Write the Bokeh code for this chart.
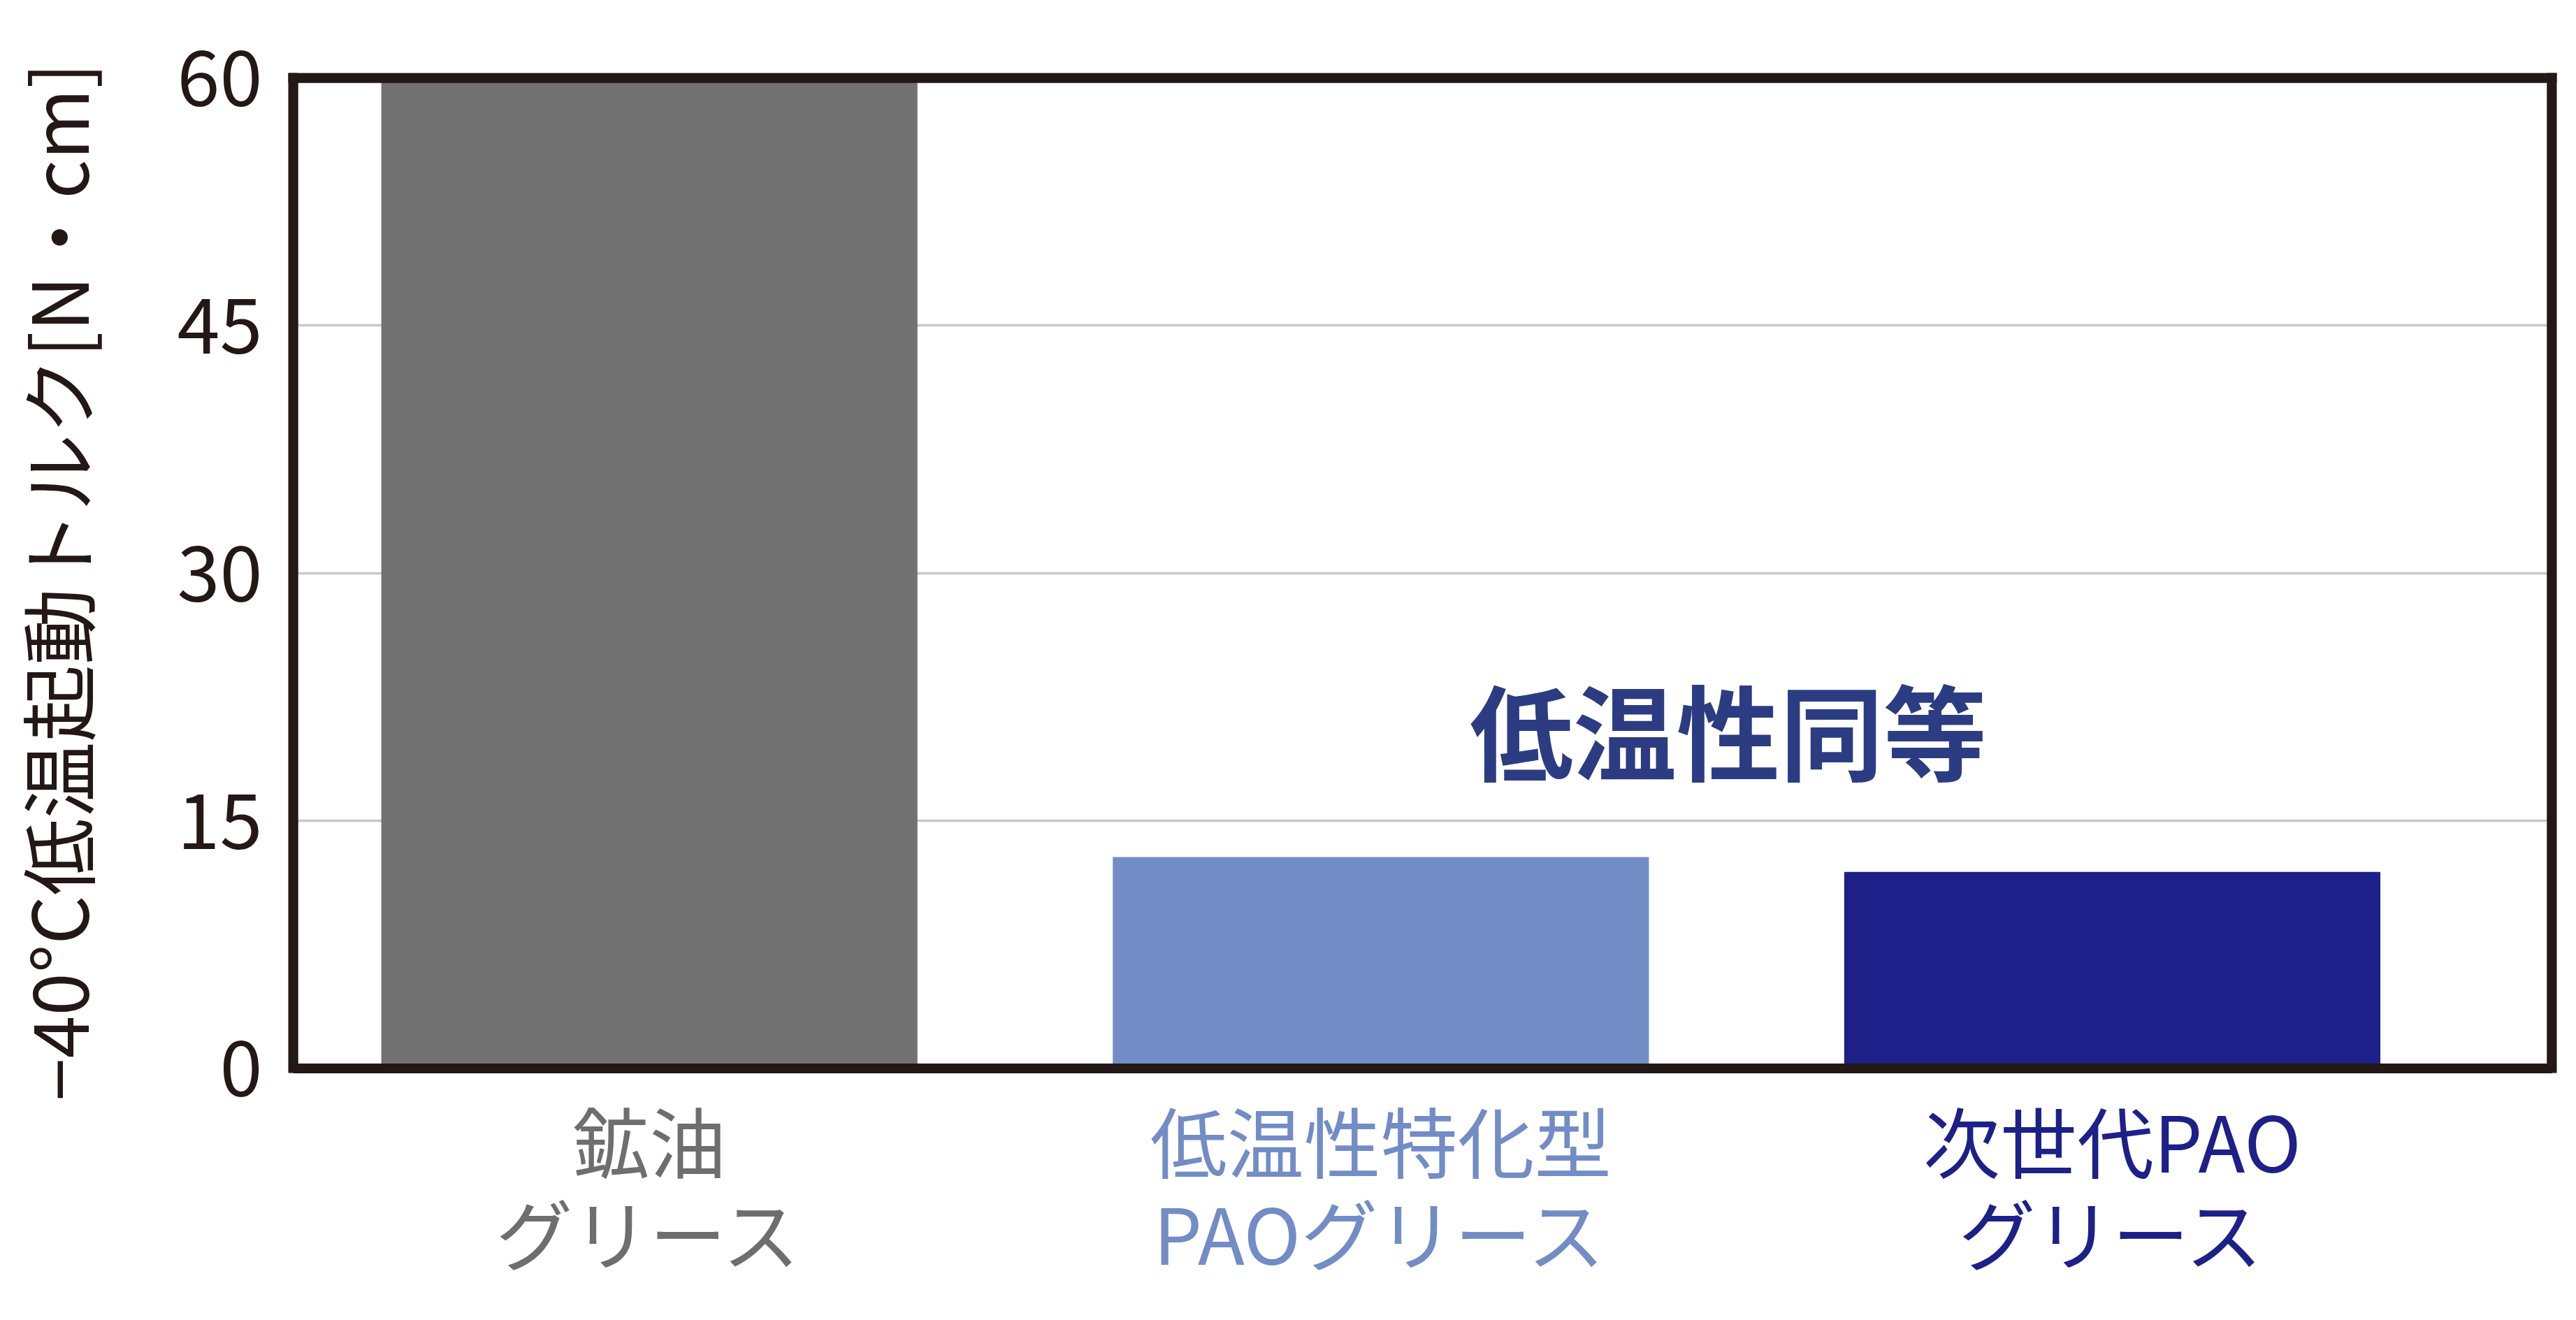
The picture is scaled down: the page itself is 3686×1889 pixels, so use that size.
from bokeh.plotting import figure
from bokeh.models import Range1d, FixedTicker, Label, LinearAxis, BoxAnnotation, Title
from bokeh.core.properties import value
from bokeh.embed import file_html
from bokeh.resources import INLINE

# ---- data ----
cat_line1 = ["鉱油", "低温性特化型", "次世代PAO"]
cat_line2 = ["グリース", "PAOグリース", "グリース"]
torque = [60.0, 12.8, 11.9]
positions = [1, 2, 3]
bar_colors = ["#717171", "#728cc6", "#1d2088"]
label_colors = ["#6e6e6e", "#728cc6", "#1d2088"]
y_ticks = [0, 15, 30, 45, 60]
y_min, y_max = 0, 60
y_label = "−40°C低温起動トルク[N・cm]"
note_text = "低温性同等"

FONT = "Noto Sans CJK JP"
INK = "#231815"
FRAME_W = 14

# the frame extends below y=0 to hold the coloured category labels
p = figure(width=3670, height=1873, output_backend="svg", toolbar_location=None,
           x_range=Range1d(0.513, 3.601), y_range=Range1d(-14.159, y_max),
           x_axis_location="above",
           min_border_left=413, min_border_right=19, min_border_top=111, min_border_bottom=10)
p.outline_line_color = None
p.background_fill_color = "white"
p.border_fill_color = "white"

p.vbar(x=positions, top=torque, bottom=0, width=0.733, fill_color=bar_colors, line_color=None)

p.xgrid.visible = False
p.ygrid.grid_line_color = "#c8c8c8"
p.ygrid.grid_line_width = 3.5

# left axis (frame left side)
ax = p.yaxis[0]
ax.ticker = FixedTicker(ticks=y_ticks)
ax.bounds = (y_min, y_max)
ax.axis_line_color = INK
ax.axis_line_width = FRAME_W
ax.axis_line_cap = "square"
ax.major_tick_line_color = None
ax.minor_tick_line_color = None
ax.major_tick_out = 0
ax.major_tick_in = 0
ax.major_label_standoff = 44
ax.major_label_text_font = FONT
ax.major_label_text_font_size = "110px"
ax.major_label_text_color = INK

# y-axis title, placed along the 0..60 part of the axis
p.add_layout(Title(text=y_label, align="left", offset=288, standoff=88,
                   padding=dict(top=0, right=0, bottom=48, left=0),
                   text_font=FONT, text_font_size="110px", text_font_style="normal",
                   text_color=INK), "left")

# top axis (frame top side)
top = p.xaxis[0]
top.ticker = FixedTicker(ticks=[])
top.axis_line_color = INK
top.axis_line_width = FRAME_W
top.axis_line_cap = "square"
top.major_tick_line_color = None
top.minor_tick_line_color = None
top.major_label_text_color = None

# right axis (frame right side)
right = LinearAxis(ticker=FixedTicker(ticks=[]), bounds=(y_min, y_max))
right.axis_line_color = INK
right.axis_line_width = FRAME_W
right.axis_line_cap = "square"
right.major_tick_line_color = None
right.minor_tick_line_color = None
right.major_label_text_color = None
p.add_layout(right, "right")

# frame bottom at y = 0
p.add_layout(BoxAnnotation(bottom=y_min, top=y_max, fill_color=None, fill_alpha=0,
                           line_color=INK, line_alpha=1.0, line_width=FRAME_W, level="overlay"))

p.add_layout(Label(x=2.475, y=20.63, text=note_text, text_align="center", text_baseline="middle",
                   text_font=FONT, text_font_size="148px", text_font_style="bold", text_color="#2c3c82"))

# category labels
p.text(x=positions, y=[-4.296] * len(positions), text=cat_line1, text_color=label_colors,
       text_font=value(FONT), text_font_size="110px", text_align="center", text_baseline="middle")
p.text(x=positions, y=[-9.87] * len(positions), text=cat_line2, text_color=label_colors,
       text_font=value(FONT), text_font_size="110px", text_align="center", text_baseline="middle")

open("out.html", "w").write(file_html(p, INLINE))
